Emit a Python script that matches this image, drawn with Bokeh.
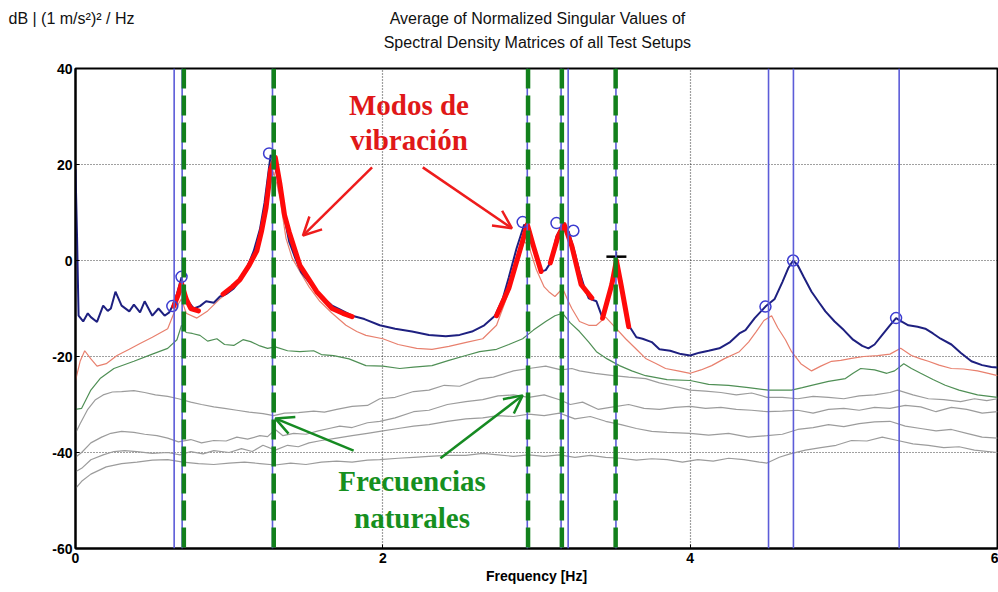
from bokeh.plotting import figure
from bokeh.models import Span, Label, Arrow, OpenHead, FixedTicker, Range1d
from bokeh.layouts import column, row
from bokeh.core.properties import value
from bokeh.embed import file_html
from bokeh.resources import INLINE

# ---------------- data ----------------
x_ticks = [0, 2, 4, 6]
y_ticks = [40, 20, 0, -20, -40, -60]
y_tick_labels = ["40", "20", "0", "-20", "-40", "-60"]

title_lines = ["Average of Normalized Singular Values of", "Spectral Density Matrices of all Test Setups"]
unit_text = "dB | (1 m/s²)² / Hz"

blue_f = [0.0, 0.01, 0.02, 0.05, 0.08, 0.1, 0.14, 0.18, 0.21, 0.23, 0.26, 0.3, 0.35, 0.38, 0.42, 0.45,
          0.5, 0.54, 0.58, 0.61, 0.63, 0.66, 0.69, 0.72, 0.77, 0.81, 0.85, 0.9, 0.94, 0.98, 1.03, 1.08,
          1.12, 1.16, 1.2, 1.23, 1.27, 1.29, 1.31, 1.35, 1.39, 1.43, 1.47, 1.52, 1.57, 1.62, 1.67, 1.72,
          1.8, 1.88, 1.98, 2.08, 2.19, 2.3, 2.41, 2.5, 2.58, 2.66, 2.73, 2.78, 2.82, 2.87, 2.92, 2.96,
          3.0, 3.03, 3.06, 3.09, 3.13, 3.17, 3.21, 3.25, 3.28, 3.31, 3.34, 3.39, 3.43, 3.46, 3.49, 3.52,
          3.55, 3.58, 3.6, 3.65, 3.69, 3.75, 3.8, 3.87, 3.94, 4.0, 4.06, 4.12, 4.19, 4.26, 4.32, 4.36,
          4.42, 4.49, 4.55, 4.6, 4.64, 4.67, 4.7, 4.74, 4.79, 4.84, 4.88, 4.94, 5.0, 5.06, 5.12, 5.16,
          5.2, 5.25, 5.3, 5.34, 5.38, 5.42, 5.48, 5.53, 5.58, 5.63, 5.7, 5.76, 5.83, 5.9, 5.96, 6.0]
blue_db = [19, 5, -11.5, -12.7, -11, -11.8, -12.8, -9.4, -10.5, -10, -6.5, -9.4, -10.6, -9.2, -10.8, -8.5,
           -11.5, -10, -11.5, -10.8, -9.6, -7, -3.5, -8, -10, -9.5, -8.5, -8.8, -7.5, -7, -5.8, -3.8,
           -1.2, 2, 6.5, 12, 22, 20.5, 18, 10.5, 4, 0.5, -2.5, -4.5, -6.5, -8, -9.4, -10.2,
           -11.5, -12.2, -13.5, -14.2, -14.8, -15.5, -15.8, -15.5, -14.8, -13.5, -11.5, -8, -3.5, 2.5, 7.5, 5,
           1, -2.3, -2, -0.5, 5, 7.5, 6, 1.5, -2.3, -5.5, -7.9, -8.5, -12, -9, -5.5, -0.3,
           -4, -10, -13.5, -16, -16.3, -17, -18.5, -18.8, -19.5, -19.8, -19.2, -18.8, -18.3, -17, -15.2, -14.5,
           -12, -9.6, -8, -4.5, -1.5, 0, -1, -3.5, -6.5, -8.8, -10.6, -12.7, -14.5, -16.5, -17.8, -18.3,
           -17.5, -15.5, -13.5, -12, -12.8, -13.5, -13.8, -14.2, -15.2, -16.3, -17.5, -19.2, -21, -21.8, -22.2, -22.3]

red_f = [0.0, 0.03, 0.06, 0.1, 0.14, 0.2, 0.27, 0.35, 0.42, 0.5, 0.6, 0.64, 0.67, 0.69, 0.72, 0.79,
         0.86, 0.94, 1.0, 1.07, 1.13, 1.18, 1.21, 1.24, 1.27, 1.29, 1.31, 1.33, 1.37, 1.41, 1.46, 1.52,
         1.59, 1.67, 1.76, 1.83, 1.89, 2.0, 2.1, 2.22, 2.32, 2.43, 2.55, 2.65, 2.74, 2.82, 2.88, 2.92,
         2.95, 3.0, 3.05, 3.08, 3.12, 3.17, 3.2, 3.23, 3.28, 3.34, 3.39, 3.45, 3.5, 3.58, 3.65, 3.71,
         3.78, 3.84, 3.92, 4.0, 4.07, 4.14, 4.22, 4.32, 4.38, 4.43, 4.48, 4.53, 4.57, 4.62, 4.66, 4.72,
         4.79, 4.85, 4.92, 4.98, 5.05, 5.13, 5.22, 5.3, 5.37, 5.44, 5.5, 5.55, 5.62, 5.7, 5.78, 5.87,
         5.94, 6.0]
red_db = [-25, -21, -18.8, -20.5, -22, -21.5, -19.8, -18.5, -17.3, -16, -14.2, -11, -9, -8, -11, -12,
          -10.5, -8, -6.5, -4.4, -1.5, 1.9, 5.5, 10.8, 16, 18.5, 16, 13, 4.6, 0.5, -2.3, -5.5,
          -8.5, -11, -13.5, -14.8, -15.6, -16.3, -17.5, -18.3, -18.5, -17.9, -17, -16.3, -13.5, -6.5, 0, 4,
          3, -2, -5.5, -6.5, -7.5, -5.8, -8, -10, -12.7, -13.5, -13.5, -11.8, -13.5, -16.3, -18.5, -20.4,
          -21.5, -22.5, -23, -23.5, -22.8, -21.9, -20.5, -19, -17, -14.8, -12.5, -11.5, -14, -16.5, -19, -21.5,
          -23, -22, -21, -20.8, -20.4, -20, -19.8, -19.5, -18.3, -19.8, -20.5, -21, -21.8, -22.5, -22.6, -23,
          -23.5, -24]

green_f = [0.0, 0.04, 0.1, 0.16, 0.25, 0.38, 0.5, 0.6, 0.66, 0.69, 0.72, 0.76, 0.81, 0.86, 0.92, 0.97,
           1.03, 1.09, 1.14, 1.2, 1.25, 1.3, 1.38, 1.46, 1.55, 1.6, 1.68, 1.78, 1.89, 2.0, 2.11, 2.2,
           2.32, 2.43, 2.54, 2.63, 2.74, 2.82, 2.91, 2.98, 3.06, 3.12, 3.17, 3.22, 3.28, 3.34, 3.39, 3.46,
           3.54, 3.62, 3.71, 3.85, 4.0, 4.12, 4.25, 4.38, 4.51, 4.6, 4.66, 4.73, 4.79, 4.9, 5.01, 5.06,
           5.11, 5.2, 5.28, 5.33, 5.39, 5.44, 5.5, 5.58, 5.66, 5.75, 5.87, 6.0]
green_db = [-31, -30.8, -27, -24.6, -22.5, -21, -19.5, -18.3, -16.5, -13.5, -15, -15.2, -15.6, -16.8, -16.3, -17.5,
            -17.7, -16.5, -16.9, -17.8, -18.3, -18, -18.8, -19, -18.8, -19.6, -19.8, -20.5, -21.9, -22, -22.5, -22.2,
            -21.9, -20.8, -19.8, -19, -18.5, -17.5, -16.3, -14.5, -12.7, -11.5, -11, -13, -14.8, -17, -19, -20.5,
            -21.9, -23, -24, -24.8, -25, -25.8, -26, -26.5, -27, -27, -27, -26.5, -26, -25.2, -24.6, -23.5,
            -22.5, -22.8, -23.5, -23, -21.5, -22.5, -23.5, -24.8, -26, -27, -28, -28.5]

grayA_f = [0.0, 0.03, 0.08, 0.13, 0.18, 0.24, 0.3, 0.38, 0.45, 0.52, 0.6, 0.67, 0.75, 0.82, 0.9, 0.97,
           1.05, 1.13, 1.22, 1.29, 1.36, 1.45, 1.55, 1.62, 1.7, 1.8, 1.9, 1.98, 2.08, 2.2, 2.3, 2.4,
           2.5, 2.63, 2.72, 2.85, 2.95, 3.06, 3.16, 3.23, 3.28, 3.38, 3.5, 3.6, 3.71, 3.8, 3.9, 4.0,
           4.1, 4.2, 4.3, 4.4, 4.5, 4.6, 4.7, 4.8, 4.9, 5.0, 5.1, 5.2, 5.3, 5.35, 5.45, 5.55,
           5.65, 5.76, 5.85, 5.93, 6.0]
grayA_db = [-36, -34, -31, -29, -28, -27.4, -27.3, -27.1, -27.5, -28, -28.3, -28.8, -29.5, -30, -30.5, -30.8,
            -31.2, -31.6, -31.9, -32.3, -31.8, -31.7, -31.4, -31.6, -31, -30.4, -30.2, -28.8, -28.5, -27.3, -27, -26,
            -26.2, -24.6, -24.3, -23, -22.5, -22, -22.8, -22.5, -23, -23.5, -24, -24.3, -24.6, -25.5, -26.2, -27,
            -27.2, -27.5, -28, -27.6, -28.5, -28.5, -28.8, -28.3, -28.5, -28.8, -28.2, -28, -27.5, -27, -28, -28.8,
            -29, -29.4, -28.8, -29.2, -28.8]

grayB_f = [0.0, 0.04, 0.1, 0.17, 0.23, 0.3, 0.38, 0.45, 0.53, 0.6, 0.67, 0.75, 0.82, 0.9, 0.98, 1.05,
           1.12, 1.2, 1.25, 1.3, 1.35, 1.42, 1.5, 1.58, 1.65, 1.72, 1.8, 1.9, 1.98, 2.08, 2.2, 2.3,
           2.42, 2.54, 2.65, 2.75, 2.85, 2.95, 3.05, 3.15, 3.22, 3.3, 3.4, 3.5, 3.6, 3.7, 3.8, 3.9,
           4.0, 4.1, 4.2, 4.3, 4.4, 4.5, 4.6, 4.7, 4.8, 4.9, 5.0, 5.1, 5.2, 5.3, 5.4, 5.5,
           5.6, 5.7, 5.8, 5.9, 6.0]
grayB_db = [-41, -40, -38, -36.8, -36, -35.6, -35.8, -36.2, -36.5, -37, -37.8, -37.3, -38, -37.5, -37.6, -36.8,
            -37.2, -36.5, -36.7, -35.2, -36.5, -36, -36.2, -35.5, -35, -34.5, -34.8, -33.8, -33.5, -32.8, -31.5, -31.2,
            -30, -29.4, -29, -28.2, -28, -28.5, -28, -29, -30, -29.5, -31, -30.5, -30, -30.8, -31, -30.6,
            -30.4, -30.8, -30.6, -31, -31.2, -31.5, -31.4, -31.2, -31.8, -31, -30.8, -31.2, -30.6, -30.8, -30.2, -30.5,
            -31.5, -30.6, -31, -31.8, -31.5]

grayC_f = [0.0, 0.04, 0.1, 0.18, 0.25, 0.32, 0.4, 0.5, 0.6, 0.68, 0.75, 0.83, 0.9, 1.0, 1.08, 1.15,
           1.22, 1.3, 1.38, 1.45, 1.52, 1.6, 1.7, 1.8, 1.9, 1.98, 2.1, 2.2, 2.3, 2.42, 2.54, 2.65,
           2.75, 2.85, 2.95, 3.05, 3.15, 3.25, 3.35, 3.45, 3.55, 3.65, 3.75, 3.85, 4.0, 4.12, 4.25, 4.38,
           4.5, 4.6, 4.7, 4.8, 4.9, 5.0, 5.1, 5.2, 5.3, 5.4, 5.5, 5.6, 5.7, 5.8, 5.9, 6.0]
grayC_db = [-44, -43.3, -41.5, -40.5, -39.8, -39.6, -39.8, -40.2, -40, -40.5, -39.8, -40.3, -39.6, -40, -39.2, -39.8,
            -38.5, -39.5, -38.5, -38.8, -38, -37.5, -37, -36.5, -36, -35.6, -35, -34.5, -34.2, -33.5, -33, -32.8,
            -32.3, -32.5, -32, -32.3, -31.8, -33, -32.5, -33.5, -34.2, -35, -35.6, -35.8, -36, -36.4, -36, -36.8,
            -36.5, -36.2, -35.2, -34.8, -34.2, -34.6, -34, -33.6, -33.5, -34.5, -35, -35.5, -35.2, -36, -36.8, -37]

grayD_f = [0.0, 0.04, 0.1, 0.2, 0.3, 0.4, 0.5, 0.6, 0.7, 0.8, 0.9, 1.0, 1.1, 1.2, 1.3, 1.4,
           1.5, 1.6, 1.7, 1.8, 1.9, 1.98, 2.1, 2.2, 2.3, 2.42, 2.54, 2.65, 2.75, 2.85, 2.95, 3.05,
           3.15, 3.25, 3.35, 3.45, 3.55, 3.65, 3.75, 3.85, 3.95, 4.05, 4.15, 4.25, 4.35, 4.45, 4.5, 4.58,
           4.65, 4.75, 4.85, 4.95, 5.05, 5.15, 5.25, 5.35, 5.45, 5.55, 5.65, 5.75, 5.85, 6.0]
grayD_db = [-47.5, -46, -44.5, -43, -42.3, -42, -41.6, -41.5, -42, -42.3, -42.5, -42.2, -42, -42.3, -42.6, -42.2,
            -42.5, -42, -41.8, -42, -41.6, -41.5, -41.2, -41, -40.8, -40.6, -40.6, -40.2, -40.5, -40.8, -40.5, -40.8,
            -40.5, -41, -40.6, -41, -41.2, -41.6, -41.3, -41.5, -42, -41.5, -41.8, -41.2, -41.5, -42, -42.2, -41,
            -40.3, -39.5, -39, -38.5, -37.5, -37.6, -36.8, -37.5, -38.2, -38.5, -39, -38.8, -39.5, -40]

# highlighted modes (thick red)
mode_segments_f = [
    [0.64, 0.67, 0.69, 0.72, 0.75, 0.8],
    [0.96, 1.02, 1.07, 1.13, 1.18, 1.21, 1.24, 1.27, 1.30, 1.33, 1.36, 1.39, 1.46, 1.52, 1.57, 1.67, 1.74, 1.80],
    [2.74, 2.82, 2.90, 2.94, 2.98, 3.03],
    [3.09, 3.14, 3.18, 3.23, 3.29, 3.36],
    [3.43, 3.49, 3.52, 3.55, 3.60],
]
mode_segments_db = [
    [-9.5, -7, -4.8, -8, -10, -10.5],
    [-7, -5.5, -4, -1, 2, 6, 11, 19, 21.5, 16, 9.5, 6, -1, -4, -6.5, -10, -11, -11.7],
    [-11.5, -5.8, 3, 7.5, 3, -2.3],
    [-0.5, 5, 7.5, 3, -5, -7.8],
    [-12, -5, 0, -5, -13.8],
]

peak_f = [0.63, 0.69, 1.26, 2.91, 3.13, 3.24, 4.49, 4.67, 5.34]
peak_db = [-9.5, -3.4, 22.3, 8.0, 7.8, 6.2, -9.6, 0.0, -12.0]
cross_f = [3.52]
cross_db = [0.8]

vline_blue_f = [0.642, 0.694, 1.282, 2.94, 3.16, 3.206, 3.517, 4.51, 4.672, 5.36]
vline_green_f = [0.705, 1.29, 2.945, 3.165, 3.515]

# ---------------- header (titles) ----------------
hdr = figure(width=998, height=60, x_range=Range1d(0, 998), y_range=Range1d(60, 0),
             output_backend="svg", toolbar_location=None, x_axis_type=None, y_axis_type=None,
             min_border=0, min_border_left=0, min_border_right=0, min_border_top=0, min_border_bottom=0)
hdr.outline_line_color = None
hdr.xgrid.visible = False
hdr.ygrid.visible = False
hdr.background_fill_color = "white"
hdr.border_fill_color = "white"
hdr.text(x=[537, 537], y=[18, 42], text=title_lines, text_align="center", text_baseline="middle",
         text_font=value("Liberation Sans"), text_font_size="16px", text_color="#111111")
hdr.text(x=[8], y=[18], text=[unit_text], text_align="left", text_baseline="middle",
         text_font=value("Liberation Sans"), text_font_size="16px", text_color="#111111")

# ---------------- main figure ----------------
p = figure(width=998, height=532, x_range=(0, 6), y_range=(-60, 40),
           output_backend="svg", toolbar_location=None,
           min_border_left=75, min_border_right=1, min_border_top=8, min_border_bottom=44)
p.background_fill_color = "white"
p.border_fill_color = "white"
p.outline_line_color = "black"
p.outline_line_width = 2

p.xaxis.ticker = FixedTicker(ticks=x_ticks)
p.yaxis.ticker = FixedTicker(ticks=y_ticks)
p.yaxis.major_label_overrides = {t: s for t, s in zip(y_ticks, y_tick_labels)}
for ax in (p.xaxis, p.yaxis):
    ax.axis_line_color = "black"
    ax.axis_line_width = 2
    ax.major_tick_in = 4
    ax.major_tick_out = 0
    ax.minor_tick_line_color = None
    ax.major_label_text_font = "Liberation Sans"
    ax.major_label_text_font_style = "bold"
    ax.major_label_text_font_size = "14px"
    ax.major_label_text_color = "black"
p.xaxis.major_label_standoff = 4
p.yaxis.major_label_standoff = 3
p.xaxis.axis_label = "Frequency [Hz]"
p.xaxis.axis_label_text_font = "Liberation Sans"
p.xaxis.axis_label_text_font_style = "bold"
p.xaxis.axis_label_text_font_size = "14px"
p.xaxis.axis_label_text_color = "black"
p.xaxis.axis_label_standoff = 2

p.xgrid.ticker = FixedTicker(ticks=[2, 4])
p.ygrid.ticker = FixedTicker(ticks=[20, 0, -20, -40])
for g in (p.xgrid, p.ygrid):
    g.grid_line_color = "black"
    g.grid_line_dash = "1 2"
    g.grid_line_width = 1.2
    g.grid_line_alpha = 0.75

# spectra
gray = "#9c9c9c"
for fx, fy in [(grayD_f, grayD_db), (grayC_f, grayC_db), (grayB_f, grayB_db), (grayA_f, grayA_db)]:
    p.line(fx, fy, line_color=gray, line_width=1.2)
p.line(green_f, green_db, line_color="#4f8f55", line_width=1.2)
p.line(red_f, red_db, line_color="#e8806e", line_width=1.2)

# vertical lines
for f in vline_blue_f:
    p.add_layout(Span(location=f, dimension="height", line_color="#5c5cd8", line_width=1.6))
for f in vline_green_f:
    p.add_layout(Span(location=f, dimension="height", line_color="#12801c", line_width=4.5,
                      line_dash="20 7"))

p.line(blue_f, blue_db, line_color="#1e2080", line_width=2)

for sf, sd in zip(mode_segments_f, mode_segments_db):
    p.line(sf, sd, line_color="#ff0a0a", line_width=5, line_join="round", line_cap="round")

p.scatter(peak_f, peak_db, marker="circle", size=11, fill_color=None,
          line_color="#3c3cd0", line_width=1.5)
p.scatter(cross_f, cross_db, marker="dash", size=20, line_color="black", line_width=2.5)
p.scatter(cross_f, cross_db, marker="cross", size=10, line_color="black", line_width=1.5)

# annotations
red_txt = "#e01818"
green_txt = "#16901f"
p.add_layout(Label(x=2.17, y=32.5, text="Modos de", text_align="center", text_baseline="middle",
                   text_font="Liberation Serif", text_font_style="bold", text_font_size="29px",
                   text_color=red_txt))
p.add_layout(Label(x=2.17, y=25.2, text="vibración", text_align="center", text_baseline="middle",
                   text_font="Liberation Serif", text_font_style="bold", text_font_size="29px",
                   text_color=red_txt))
p.add_layout(Label(x=2.19, y=-46.0, text="Frecuencias", text_align="center", text_baseline="middle",
                   text_font="Liberation Serif", text_font_style="bold", text_font_size="29px",
                   text_color=green_txt))
p.add_layout(Label(x=2.19, y=-53.6, text="naturales", text_align="center", text_baseline="middle",
                   text_font="Liberation Serif", text_font_style="bold", text_font_size="29px",
                   text_color=green_txt))

for (xs, ys, xe, ye, col) in [(1.93, 19.4, 1.48, 5.2, "#ee1c1c"),
                              (2.26, 19.4, 2.84, 6.7, "#ee1c1c"),
                              (1.81, -39.6, 1.30, -32.9, "#168a22"),
                              (2.375, -41.2, 2.91, -28.1, "#168a22")]:
    p.add_layout(Arrow(end=OpenHead(size=18, line_color=col, line_width=2.5),
                       x_start=xs, y_start=ys, x_end=xe, y_end=ye,
                       line_color=col, line_width=2.5))

layout = column(row(hdr), p, spacing=0)
open("out.html", "w").write(file_html(layout, INLINE))
